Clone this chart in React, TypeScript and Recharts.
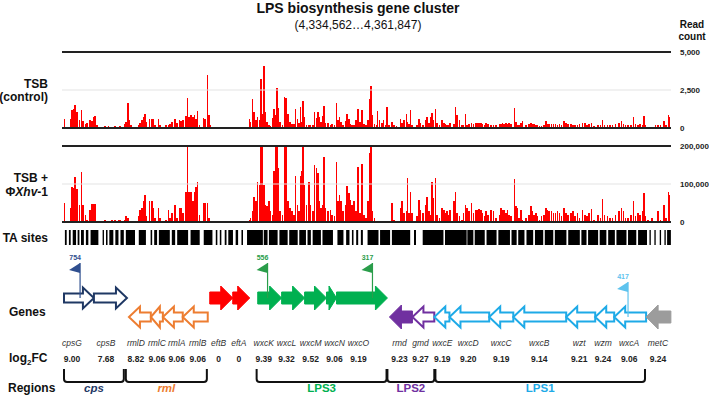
import React from "react";
import {
  BarChart,
  Bar,
  ComposedChart,
  Scatter,
  XAxis,
  YAxis,
  ReferenceLine,
  ReferenceArea,
  ReferenceDot,
} from "recharts";

const FONT = "'Liberation Sans', Arial, Helvetica, sans-serif";
const W = 709;
const PLOT_LEFT = 62;
const AXIS_W = 38;
// cluster 4,334,562..4,361,847, positions in kb from the cluster start
const SPAN_KB = 27.285;

// TA sites with reads (kb from cluster start)
const sitePos = [
  0.09, 0.36, 0.43, 0.51, 0.58, 0.66, 0.78, 0.87, 0.92, 1.03,
  1.1, 1.25, 1.33, 1.4, 1.46, 1.55, 1.92, 2.07, 2.22, 2.37,
  2.52, 2.59, 2.82, 2.86, 2.94, 3.01, 3.07, 3.41, 3.49, 3.56,
  3.64, 3.7, 3.76, 3.91, 4.01, 4.09, 4.16, 4.31, 4.38, 4.65,
  4.76, 4.83, 4.91, 5.05, 5.13, 5.25, 5.31, 5.4, 5.55, 5.61,
  5.67, 5.76, 5.85, 5.93, 5.99, 6.05, 6.14, 6.32, 6.4, 6.5,
  6.58, 6.65, 8.19, 8.38, 8.44, 8.53, 8.59, 8.68, 8.74, 8.83,
  8.9, 8.98, 9.04, 9.11, 9.18, 9.26, 9.33, 9.41, 9.48, 9.56,
  9.62, 9.68, 9.75, 9.86, 9.96, 10.03, 10.11, 10.2, 10.3, 10.38,
  10.45, 10.53, 10.6, 10.68, 10.73, 10.79, 10.85, 10.93, 11.05, 11.12,
  11.23, 11.3, 11.39, 11.45, 11.51, 11.59, 11.66, 11.72, 11.79, 11.9,
  12.02, 12.09, 12.2, 12.29, 12.35, 12.43, 12.49, 12.58, 12.69, 12.76,
  12.84, 12.91, 12.99, 13.06, 13.15, 13.24, 13.33, 13.42, 13.51, 13.6,
  13.69, 13.78, 13.84, 13.9, 13.99, 14.07, 14.13, 14.22, 14.33, 14.4,
  14.48, 14.55, 14.63, 14.78, 14.85, 14.97, 15.07, 15.15, 15.22, 15.3,
  15.42, 15.46, 15.54, 15.6, 15.67, 15.89, 15.97, 16.04, 16.16, 16.27,
  16.34, 16.42, 16.49, 16.56, 16.64, 16.71, 16.79, 16.91, 17.01, 17.09,
  17.16, 17.24, 17.31, 17.38, 17.55, 17.61, 17.68, 17.8, 17.91, 17.98,
  18.06, 18.13, 18.23, 18.34, 18.43, 18.53, 18.61, 18.68, 18.76, 18.83,
  18.91, 18.98, 19.08, 19.2, 19.32, 19.43, 19.58, 19.65, 19.73, 19.8,
  19.87, 19.95, 20.02, 20.1, 20.25, 20.32, 20.4, 20.47, 20.55, 20.62,
  20.77, 20.92, 20.99, 21.07, 21.14, 21.22, 21.29, 21.37, 21.47, 21.59,
  21.68, 21.74, 21.81, 21.92, 22.01, 22.1, 22.19, 22.28, 22.36, 22.48,
  22.57, 22.66, 22.78, 22.87, 22.96, 23.08, 23.17, 23.3, 23.41, 23.5,
  23.6, 23.71, 23.83, 24.0, 24.12, 24.2, 24.3, 24.42, 24.54, 24.65,
  24.79, 24.94, 25.05, 25.14, 25.24, 25.35, 25.47, 25.59, 25.69, 25.79,
  25.88, 25.99, 26.06, 26.14, 26.24, 26.43, 26.58, 26.69, 26.81, 26.96,
  27.05, 27.15, 27.21,
];

const ctrlReads = [
  570, 570, 1160, 1270, 1490, 1050, 500, 1160, 440, 285,
  350, 500, 440, 720, 790, 175, 110, 110, 90, 110,
  90, 110, 285, 390, 1660, 500, 175, 220, 350, 500,
  720, 940, 390, 570, 570, 570, 175, 570, 175, 175,
  220, 285, 390, 570, 350, 500, 440, 500, 790, 2000,
  720, 880, 720, 880, 610, 1140, 175, 660, 610, 3500,
  830, 220, 90, 570, 390, 1880, 1050, 500, 720, 500,
  3240, 940, 4100, 1050, 390, 220, 130, 660, 1270, 830,
  2630, 1310, 390, 175, 2040, 1970, 940, 390, 285, 285,
  1270, 610, 350, 1380, 390, 1770, 720, 220, 220, 220,
  220, 1050, 660, 1050, 720, 390, 790, 1450, 350, 350,
  220, 285, 175, 1660, 500, 720, 390, 220, 440, 940,
  570, 285, 220, 175, 500, 1230, 390, 1160, 285, 175,
  500, 1920, 2760, 830, 285, 175, 1090, 500, 350, 500,
  220, 1380, 220, 390, 175, 130, 65, 570, 350, 500,
  940, 390, 285, 1160, 220, 175, 610, 350, 220, 500,
  720, 350, 720, 1010, 500, 1270, 350, 220, 500, 350,
  285, 220, 175, 350, 285, 1380, 830, 500, 220, 175,
  940, 175, 285, 350, 260, 330, 350, 300, 350, 260,
  220, 330, 260, 220, 175, 220, 260, 260, 300, 260,
  330, 260, 350, 260, 1310, 390, 220, 175, 350, 440,
  175, 285, 350, 285, 285, 220, 175, 130, 130, 175,
  440, 285, 285, 260, 260, 260, 220, 260, 220, 440,
  350, 285, 260, 220, 175, 220, 260, 300, 350, 220,
  260, 350, 130, 175, 175, 500, 220, 220, 220, 220,
  260, 350, 440, 260, 220, 220, 220, 700, 260, 220,
  260, 220, 790, 175, 90, 90, 175, 220, 220, 440,
  220, 830, 720,
];

const phageReads = [
  50000, 37000, 93000, 89000, 118000, 86000, 45000, 131000, 45000, 19000,
  6000, 32000, 47000, 47000, 47000, 3000, 6000, 3000, 5000, 6000,
  4000, 6000, 6000, 15000, 10000, 3000, 2000, 15000, 32000, 38000,
  54000, 72000, 15000, 56000, 54000, 38000, 10000, 38000, 10000, 6000,
  32000, 10000, 24000, 45000, 10000, 37000, 38000, 24000, 80000, 198000,
  80000, 80000, 54000, 80000, 93000, 106000, 19000, 50000, 50000, 50000,
  10000, 3000, 3000, 6000, 10000, 28000, 65000, 54000, 106000, 98000,
  198000, 198000, 98000, 45000, 41000, 54000, 28000, 19000, 133000, 198000,
  198000, 141000, 28000, 19000, 198000, 198000, 54000, 37000, 28000, 19000,
  121000, 45000, 28000, 121000, 134000, 198000, 98000, 45000, 106000, 45000,
  28000, 150000, 141000, 128000, 54000, 37000, 45000, 172000, 37000, 28000,
  32000, 19000, 15000, 157000, 54000, 72000, 54000, 28000, 45000, 96000,
  76000, 58000, 45000, 56000, 28000, 145000, 24000, 153000, 19000, 10000,
  54000, 181000, 198000, 28000, 10000, 3000, 3000, 3000, 3000, 3000,
  3000, 3000, 3000, 50000, 6000, 3000, 3000, 38000, 54000, 24000,
  28000, 117000, 24000, 80000, 24000, 15000, 58000, 32000, 24000, 45000,
  67000, 28000, 19000, 106000, 63000, 115000, 19000, 10000, 37000, 32000,
  24000, 28000, 19000, 32000, 54000, 78000, 24000, 15000, 6000, 24000,
  45000, 37000, 28000, 50000, 24000, 32000, 32000, 35000, 32000, 24000,
  15000, 28000, 19000, 32000, 28000, 10000, 19000, 37000, 32000, 32000,
  24000, 32000, 19000, 15000, 113000, 41000, 37000, 10000, 32000, 6000,
  10000, 19000, 43000, 28000, 19000, 24000, 15000, 6000, 15000, 19000,
  38000, 32000, 28000, 28000, 24000, 24000, 28000, 24000, 15000, 37000,
  24000, 19000, 24000, 28000, 15000, 24000, 10000, 32000, 19000, 15000,
  24000, 35000, 6000, 19000, 10000, 61000, 19000, 15000, 10000, 10000,
  19000, 28000, 37000, 28000, 10000, 10000, 19000, 54000, 15000, 24000,
  19000, 28000, 76000, 15000, 6000, 10000, 3000, 28000, 6000, 45000,
  10000, 80000, 72000,
];

// stretches covered by TA sites [start, end] kb
const taBlocks: [number, number][] = [
  [0.13, 0.21], [0.31, 0.39], [0.48, 0.63], [0.7, 0.78], [0.85, 0.98], [1.07, 1.18],
  [1.28, 1.63], [1.82, 1.88], [1.97, 2.04], [2.12, 2.3], [2.39, 2.53], [2.62, 2.77],
  [2.86, 3.27], [3.44, 3.76], [3.97, 4.04], [4.13, 4.26], [4.34, 4.83], [4.92, 5.07],
  [5.16, 5.65], [5.76, 6.17], [6.35, 6.74], [6.89, 6.96], [7.07, 7.14], [7.29, 7.37],
  [7.45, 7.66], [7.78, 7.89], [8.04, 8.11], [8.29, 9.0], [9.04, 9.21], [9.27, 9.66],
  [9.74, 10.11], [10.18, 10.56], [10.63, 10.93], [11.0, 11.15], [11.23, 11.6], [11.67, 12.14],
  [12.34, 12.61], [12.73, 12.88], [12.99, 13.06], [13.18, 13.27], [13.39, 13.48], [13.69, 14.18],
  [14.25, 14.7], [14.78, 15.6], [15.77, 15.86], [16.16, 17.09], [17.16, 18.13], [18.16, 18.43],
  [18.49, 18.94], [19.02, 19.47], [19.55, 20.07], [20.14, 20.37], [20.44, 20.72], [20.81, 21.11],
  [21.19, 21.56], [21.63, 22.01], [22.08, 22.6], [22.68, 23.2], [23.27, 23.5], [23.57, 24.02],
  [24.09, 24.39], [24.47, 24.77], [24.84, 25.29], [25.36, 25.73], [25.81, 26.21], [26.32, 26.38],
  [26.54, 26.6], [26.78, 26.84], [26.99, 27.05], [27.11, 27.28],
];

const geneNames = ["cpsG", "cpsB", "rmlD", "rmlC", "rmlA", "rmlB", "eftB", "eftA", "wxcK", "wxcL", "wxcM", "wxcN", "wxcO", "rmd", "gmd", "wxcE", "wxcD", "wxcC", "wxcB", "wzt", "wzm", "wxcA", "metC"];
const geneStart = [0.09, 1.43, 3.0, 3.98, 4.52, 5.41, 6.62, 7.65, 8.77, 9.84, 10.87, 11.85, 12.3, 14.67, 15.7, 16.68, 17.36, 19.14, 20.22, 22.59, 23.89, 24.74, 26.17];
const geneEnd = [1.43, 2.91, 3.98, 4.52, 5.41, 6.53, 7.65, 8.41, 9.84, 10.87, 11.85, 12.3, 14.58, 15.7, 16.68, 17.36, 19.14, 20.22, 22.59, 23.89, 24.74, 26.17, 27.28];
const geneStrand = [1, 1, -1, -1, -1, -1, 1, 1, 1, 1, 1, 1, 1, -1, -1, -1, -1, -1, -1, -1, -1, -1, -1];
const geneGroup = ["cps", "cps", "rml", "rml", "rml", "rml", "eft", "eft", "LPS3", "LPS3", "LPS3", "LPS3", "LPS3", "LPS2", "LPS2", "LPS1", "LPS1", "LPS1", "LPS1", "LPS1", "LPS1", "LPS1", "met"];
const geneFilled = [false, false, false, false, false, false, true, true, true, true, true, true, true, true, false, false, false, false, false, false, false, false, true];
const log2FC = [9.0, 7.68, 8.82, 9.06, 9.06, 9.06, 0, 0, 9.39, 9.32, 9.52, 9.06, 9.19, 9.23, 9.27, 9.19, 9.2, 9.19, 9.14, 9.21, 9.24, 9.06, 9.24];
const geneLabelAt = [0.45, 1.97, 3.31, 4.25, 5.14, 6.08, 7.02, 7.92, 9.04, 10.06, 11.14, 12.21, 13.28, 15.12, 16.06, 17.04, 18.2, 19.68, 21.38, 23.17, 24.24, 25.41, 26.7];

const flagPos = [0.81, 9.21, 13.91, 25.36];
const flagLabel = ["754", "556", "317", "417"];
const flagStrand = [1, 1, 1, -1];

const regionNames = ["cps", "rml", "LPS3", "LPS2", "LPS1"];
const regionStart = [0.09, 2.86, 8.72, 14.58, 16.73];
const regionEnd = [2.77, 6.49, 14.54, 16.68, 26.12];

const GROUP_COLOR: Record<string, string> = {
  cps: "#1f3864",
  rml: "#ed7d31",
  eft: "#ff0000",
  LPS3: "#00b050",
  LPS2: "#7030a0",
  LPS1: "#1eaae7",
  met: "#9c9c9c",
};
const FLAG_COLOR = ["#2f4f8f", "#2a9d4a", "#2a9d4a", "#5ec3ee"];

// vertical rows of the gene panel (px from panel top)
const ROW = { fwd: 48, rev: 67, name: 95.5, fc: 111.5, brTop: 119, brBot: 132, region: 142 };

const redBar = (p: any) =>
  p.height > 0 ? (
    <rect x={p.x} y={p.y} width={Math.max(p.width, 1.5)} height={p.height} fill="#ff0000" shapeRendering="crispEdges" />
  ) : null;

function ReadTrack({ top, values, max }: { top: number; values: number[]; max: number }) {
  const data = sitePos.map((pos, i) => ({ pos, reads: values[i] }));
  return (
    <div style={{ position: "absolute", left: 0, top }}>
      <BarChart width={W} height={100} data={data} margin={{ top: 12, right: 0, bottom: 12, left: PLOT_LEFT }} barSize={2}>
        <XAxis type="number" dataKey="pos" domain={[0, SPAN_KB]} hide />
        <YAxis
          orientation="right"
          type="number"
          domain={[0, max]}
          ticks={[0, max / 2, max]}
          interval={0}
          width={AXIS_W}
          axisLine={false}
          tickLine={false}
          tickMargin={3}
          allowDataOverflow
          tick={{ fontSize: 8, fontWeight: 700, fill: "#222", fontFamily: FONT }}
          tickFormatter={(v: number) => v.toLocaleString("en-US")}
        />
        <ReferenceLine y={max / 2} stroke="#e3e3e3" strokeWidth={1} />
        <Bar dataKey="reads" fill="#ff0000" shape={redBar} isAnimationActive={false} />
        <ReferenceLine y={max} stroke="#222" strokeWidth={2} />
        <ReferenceLine y={0} stroke="#222" strokeWidth={2} />
      </BarChart>
    </div>
  );
}

const taMid = taBlocks.map(([s, e]) => ({ x: (s + e) / 2, y: 0.5 }));

function TaTrack() {
  return (
    <div style={{ position: "absolute", left: 0, top: 225 }}>
      <ComposedChart width={W} height={25} margin={{ top: 5, right: AXIS_W, bottom: 5, left: PLOT_LEFT }}>
        <XAxis type="number" dataKey="x" domain={[0, SPAN_KB]} hide />
        <YAxis type="number" dataKey="y" domain={[0, 1]} hide />
        {taBlocks.map(([s, e], i) => (
          <ReferenceArea key={i} x1={s} x2={e} y1={0} y2={1} fill="#000" fillOpacity={1} stroke="none" ifOverflow="visible" />
        ))}
        <Scatter data={taMid} isAnimationActive={false} shape={() => <g />} />
      </ComposedChart>
    </div>
  );
}

function arrowShape(i: number) {
  return (p: any) => {
    const { x, y, width: w, height: h } = p;
    const filled = geneFilled[i];
    const color = GROUP_COLOR[geneGroup[i]];
    const cy = y + h / 2;
    const bodyH = filled ? 12 : 9;
    const headH = filled ? 24 : 21;
    const head = Math.min(filled ? 12 : 11, w * 0.75);
    let d: string;
    if (geneStrand[i] > 0) {
      const hb = x + w - head;
      d = `M${x},${cy - bodyH / 2}L${hb},${cy - bodyH / 2}L${hb},${cy - headH / 2}L${x + w},${cy}L${hb},${cy + headH / 2}L${hb},${cy + bodyH / 2}L${x},${cy + bodyH / 2}Z`;
    } else {
      const hb = x + head;
      d = `M${x + w},${cy - bodyH / 2}L${hb},${cy - bodyH / 2}L${hb},${cy - headH / 2}L${x},${cy}L${hb},${cy + headH / 2}L${hb},${cy + bodyH / 2}L${x + w},${cy + bodyH / 2}Z`;
    }
    return <path d={d} fill={filled ? color : "#fff"} stroke={color} strokeWidth={filled ? 1 : 2} strokeLinejoin="miter" />;
  };
}

function flagShape(i: number) {
  return (p: any) => {
    const { cx, cy } = p;
    const c = FLAG_COLOR[i];
    const top = cy - 35;
    return (
      <g>
        <line x1={cx} y1={top} x2={cx} y2={cy} stroke={c} strokeWidth={1.2} />
        <polygon points={`${cx},${top} ${cx - 11},${top + 7} ${cx},${top + 10}`} fill={c} />
        <text x={cx - 5} y={top - 3} fontSize={7} fontWeight={700} fill={c} textAnchor="middle" fontFamily={FONT}>
          {flagLabel[i]}
        </text>
      </g>
    );
  };
}

function bracketShape(p: any) {
  const { x, y, width: w, height: h } = p;
  const r = 3;
  const b = y + h;
  const d = `M${x},${y}L${x},${b - r}Q${x},${b} ${x + r},${b}L${x + w - r},${b}Q${x + w},${b} ${x + w},${b - r}L${x + w},${y}`;
  return <path d={d} fill="none" stroke="#111" strokeWidth={2} />;
}

const nameData = geneNames.map((n, i) => ({ x: geneLabelAt[i], y: ROW.name, text: n }));
const fcData = log2FC.map((v, i) => ({ x: geneLabelAt[i], y: ROW.fc, text: v === 0 ? "0" : v.toFixed(2) }));
const regionData = regionNames.map((n, i) => ({ x: (regionStart[i] + regionEnd[i]) / 2, y: ROW.region, text: n }));

function GenePanel() {
  return (
    <div style={{ position: "absolute", left: 0, top: 250 }}>
      <ComposedChart width={W} height={145} margin={{ top: 0, right: AXIS_W, bottom: 0, left: PLOT_LEFT }}>
        <XAxis type="number" dataKey="x" domain={[0, SPAN_KB]} hide />
        <YAxis type="number" dataKey="y" domain={[0, 145]} reversed hide />
        {geneNames.map((n, i) => {
          const row = geneStrand[i] > 0 ? ROW.fwd : ROW.rev;
          return (
            <ReferenceArea key={n} x1={geneStart[i]} x2={geneEnd[i]} y1={row - 12} y2={row + 12} ifOverflow="visible" shape={arrowShape(i)} />
          );
        })}
        {regionNames.map((n, i) => (
          <ReferenceArea key={n} x1={regionStart[i]} x2={regionEnd[i]} y1={ROW.brTop} y2={ROW.brBot} ifOverflow="visible" shape={bracketShape} />
        ))}
        {flagPos.map((pos, i) => (
          <ReferenceDot key={flagLabel[i]} x={pos} y={flagStrand[i] > 0 ? ROW.fwd : ROW.rev} ifOverflow="visible" shape={flagShape(i)} />
        ))}
        <Scatter
          data={nameData}
          isAnimationActive={false}
          shape={(p: any) => (
            <text x={p.cx} y={p.cy} fontSize={8.5} fontStyle="italic" fill="#333" textAnchor="middle" fontFamily={FONT}>
              {p.payload.text}
            </text>
          )}
        />
        <Scatter
          data={fcData}
          isAnimationActive={false}
          shape={(p: any) => (
            <text x={p.cx} y={p.cy} fontSize={8.5} fontWeight={700} fill="#222" textAnchor="middle" fontFamily={FONT}>
              {p.payload.text}
            </text>
          )}
        />
        <Scatter
          data={regionData}
          isAnimationActive={false}
          shape={(p: any) => {
            const name = p.payload.text;
            return (
              <text
                x={p.cx}
                y={p.cy}
                fontSize={11.5}
                fontWeight={700}
                fontStyle={name === "cps" || name === "rml" ? "italic" : "normal"}
                fill={GROUP_COLOR[name]}
                textAnchor="middle"
                fontFamily={FONT}
              >
                {name}
              </text>
            );
          }}
        />
      </ComposedChart>
    </div>
  );
}

function Labels() {
  const bold = { fontWeight: 700, fontSize: 12, fill: "#111", fontFamily: FONT } as const;
  return (
    <svg width={W} height={395} style={{ position: "absolute", left: 0, top: 0, pointerEvents: "none" }}>
      <text x={358} y={12.5} textAnchor="middle" fontSize={14} fontWeight={700} fill="#111" fontFamily={FONT}>
        LPS biosynthesis gene cluster
      </text>
      <text x={358} y={28.5} textAnchor="middle" fontSize={12} fill="#111" fontFamily={FONT}>
        (4,334,562…4,361,847)
      </text>
      <text x={692} y={28} textAnchor="middle" fontSize={10} fontWeight={700} fill="#111" fontFamily={FONT}>
        Read
      </text>
      <text x={692} y={40} textAnchor="middle" fontSize={10} fontWeight={700} fill="#111" fontFamily={FONT}>
        count
      </text>
      <text x={48} y={88} textAnchor="end" {...bold}>TSB</text>
      <text x={48} y={100.5} textAnchor="end" {...bold}>(control)</text>
      <text x={48} y={182} textAnchor="end" {...bold}>TSB +</text>
      <text x={48} y={196} textAnchor="end" {...bold}>
        Φ<tspan fontStyle="italic">Xhv</tspan>-1
      </text>
      <text x={48} y={242} textAnchor="end" {...bold}>TA sites</text>
      <text x={9} y={315.5} {...bold}>Genes</text>
      <text x={9} y={362} {...bold}>
        log<tspan fontSize={8} dy={3}>2</tspan>
        <tspan dy={-3}>FC</tspan>
      </text>
      <text x={8} y={392} {...bold}>Regions</text>
    </svg>
  );
}

export default function App() {
  return (
    <div style={{ position: "absolute", left: 0, top: 0, width: W, height: 395, background: "#fff", fontFamily: FONT, overflow: "hidden" }}>
      <ReadTrack top={40} values={ctrlReads} max={5000} />
      <ReadTrack top={134} values={phageReads} max={200000} />
      <TaTrack />
      <GenePanel />
      <Labels />
    </div>
  );
}
